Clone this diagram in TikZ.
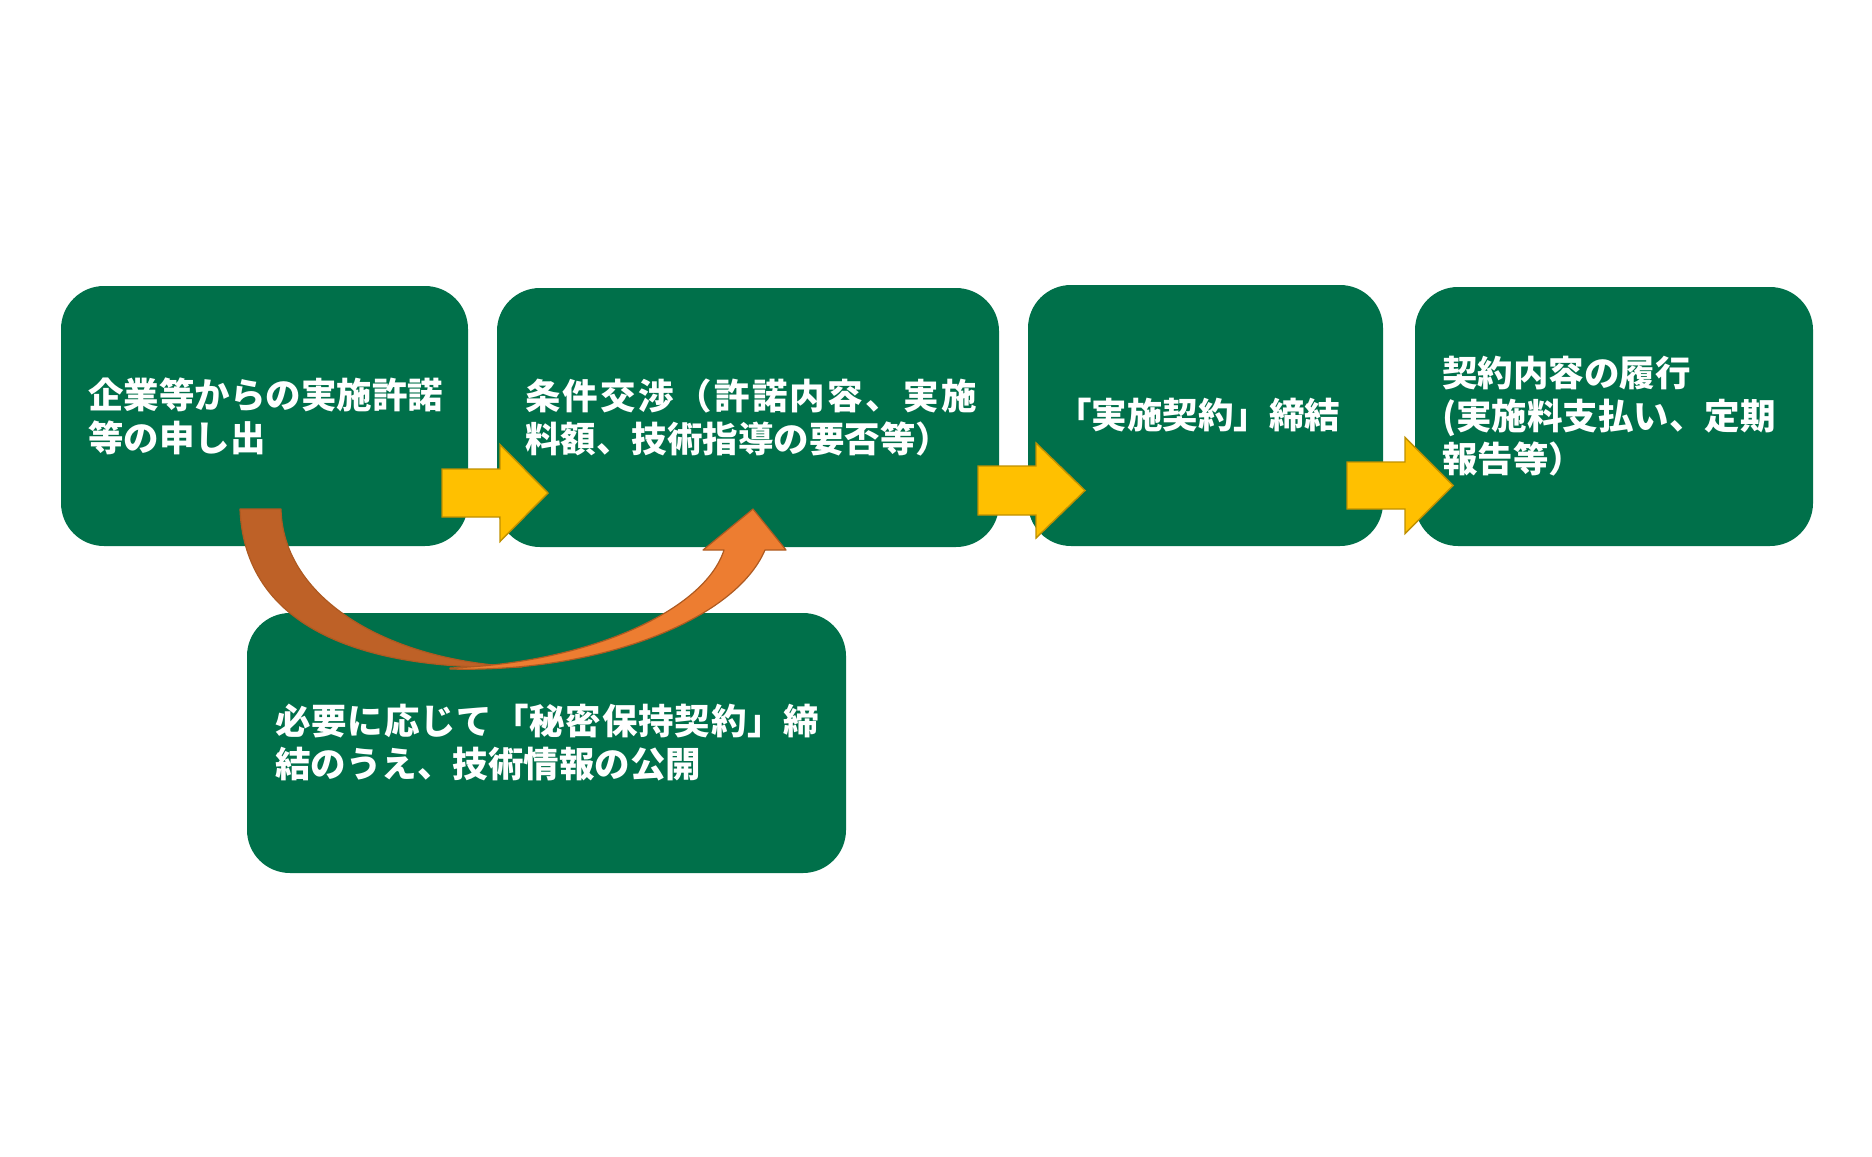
\documentclass[tikz,border=0pt]{standalone}
\usepackage{fontspec}
\newfontfamily\jp{Noto Sans CJK JP}
\definecolor{boxgreen}{RGB}{0,112,74}
\definecolor{arrowyellow}{RGB}{255,192,0}
\definecolor{arrowyellowline}{RGB}{191,144,0}
\definecolor{orangelight}{RGB}{237,125,49}
\definecolor{orangedark}{RGB}{190,97,39}
\definecolor{orangeline}{RGB}{174,90,33}
\tikzset{
  flowbox/.style={rectangle, rounded corners=21.5pt, fill=boxgreen, draw=none,
    text=white, align=left, inner ysep=0pt,
    font=\jp\bfseries\fontsize{17.75pt}{21.5pt}\selectfont},
  yellowarrow/.style={fill=arrowyellow, draw=arrowyellowline, line width=0.7pt, line join=miter},
  bandlight/.style={fill=orangelight, draw=orangeline, line width=0.6pt, line join=round},
  banddark/.style={fill=orangedark, draw=orangeline, line width=0.6pt, line join=round}
}
\begin{document}
\begin{tikzpicture}[x=0.5pt,y=-0.5pt]
\useasboundingbox (0,0) rectangle (1872,1156);

% boxes
\node[flowbox, minimum height=130pt, text width=176.5pt, inner xsep=13.5pt] (b1) at (264.5,416)
  {企業等からの実施許諾\\等の申し出};
\node[flowbox, minimum height=129.5pt, text width=223pt, inner xsep=14pt] (b2) at (748,417.5)
  {{\addfontfeature{LetterSpace=6.6}条件交渉（許諾内容、実施}\\料額、技術指導の要否等）};
\node[flowbox, minimum height=130.5pt, text width=149.5pt, inner xsep=14pt] (b3) at (1205.5,415.5)
  {「実施契約」締結};
\node[flowbox, minimum height=129.5pt, text width=172pt, inner xsep=13.5pt] (b4) at (1614,416.5)
  {契約内容の履行\\(実施料支払い、定期\\報告等）};
\node[flowbox, minimum height=130pt, text width=271.5pt, inner xsep=14pt] (b5) at (546.5,743)
  {{\addfontfeature{LetterSpace=2.4}必要に応じて「秘密保持契約」締}\\結のうえ、技術情報の公開};

% yellow block arrows
\draw[yellowarrow, shift={(442,493)}] (0,-24) -- (58,-24) -- (58,-48.5) -- (106,0) -- (58,48.5) -- (58,24) -- (0,24) -- cycle;
\draw[yellowarrow, shift={(978,490.5)}] (0,-24.5) -- (58,-24.5) -- (58,-47.5) -- (107,0) -- (58,47.5) -- (58,24.5) -- (0,24.5) -- cycle;
\draw[yellowarrow, shift={(1347,485.5)}] (0,-23.5) -- (58,-23.5) -- (58,-48) -- (106,0) -- (58,48) -- (58,23.5) -- (0,23.5) -- cycle;

% curved orange arrow (back band)
\draw[banddark] (240,509) -- (281,509) .. controls (283,600) and (390,662) .. (522,667)
  .. controls (380,671) and (245,637) .. (240,509) -- cycle;
% curved orange arrow (front band with head)
\draw[bandlight] (450,669) .. controls (600,673) and (735,620) .. (765,550)
  -- (786,550) -- (753,509) -- (703,550) -- (724,550)
  .. controls (705,610) and (590,663) .. (450,668) -- cycle;
\end{tikzpicture}
\end{document}
